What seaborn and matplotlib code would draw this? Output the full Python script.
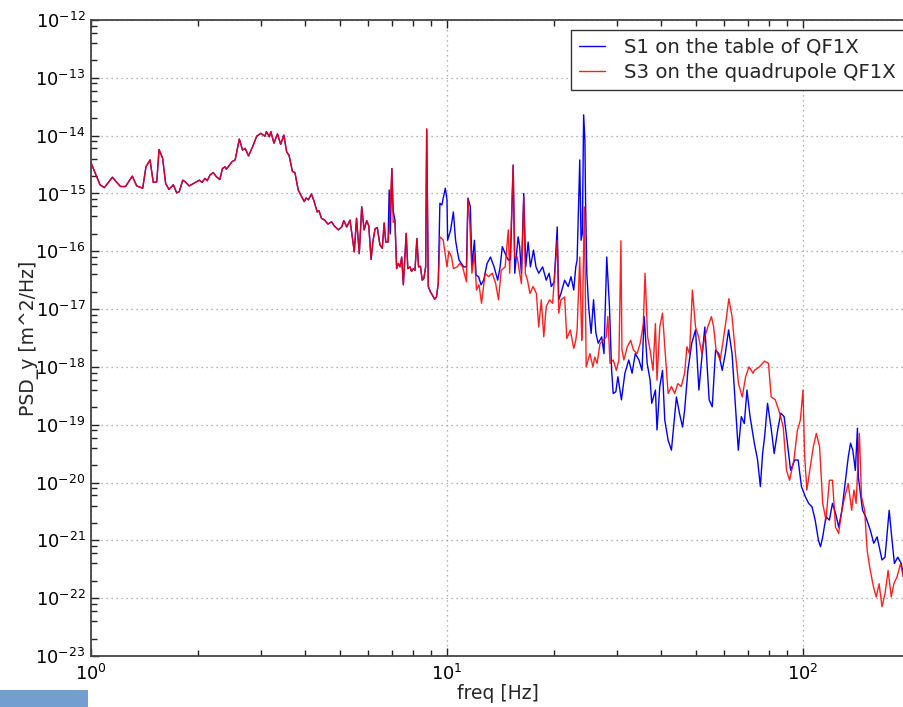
import numpy as np
import pandas as pd
import matplotlib
matplotlib.use("Agg")
import matplotlib.pyplot as plt
import matplotlib.ticker as mticker
from matplotlib.patches import Rectangle
import seaborn as sns

# ---------------- data ----------------
# common part: both sensors identical below ~6.8 Hz
f_common = [1.0, 1.037, 1.06, 1.09, 1.148, 1.21, 1.25, 1.306, 1.344, 1.397,
            1.427, 1.465, 1.496, 1.53, 1.553, 1.589, 1.621, 1.656, 1.703, 1.741,
            1.77, 1.81, 1.84, 1.887, 2.016, 2.05, 2.09, 2.12, 2.16, 2.205,
            2.25, 2.30, 2.34, 2.38, 2.40, 2.45, 2.49, 2.54, 2.61, 2.665,
            2.71, 2.77, 2.845, 2.92, 3.0, 3.08, 3.11, 3.17, 3.2, 3.265,
            3.34, 3.41, 3.48, 3.545, 3.60, 3.68, 3.74, 3.82, 3.91, 3.97,
            4.02, 4.08, 4.16, 4.23, 4.32, 4.37, 4.44, 4.53, 4.63, 4.74,
            4.82, 4.95, 5.06, 5.13, 5.23, 5.34, 5.49, 5.57, 5.67, 5.76,
            5.85, 5.95, 6.03, 6.12, 6.19, 6.28, 6.37, 6.48, 6.58, 6.66,
            6.73, 6.83]
log_psd_common = [-14.47, -14.71, -14.85, -14.90, -14.72, -14.88, -14.88, -14.70, -14.87, -14.91,
                  -14.54, -14.42, -14.81, -14.80, -14.24, -14.39, -14.83, -14.93, -14.85, -14.99,
                  -14.97, -14.77, -14.80, -14.87, -14.77, -14.81, -14.74, -14.78, -14.68, -14.64,
                  -14.71, -14.76, -14.57, -14.54, -14.58, -14.51, -14.45, -14.42, -14.06, -14.25,
                  -14.22, -14.35, -14.19, -14.01, -13.96, -14.01, -13.93, -14.02, -13.93, -14.13,
                  -13.97, -14.15, -13.99, -14.28, -14.34, -14.62, -14.64, -14.94, -15.06, -15.14,
                  -15.08, -15.11, -15.01, -15.13, -15.32, -15.30, -15.43, -15.46, -15.53, -15.49,
                  -15.56, -15.63, -15.58, -15.47, -15.58, -15.46, -16.01, -15.43, -16.04, -15.23,
                  -15.63, -15.47, -15.56, -16.14, -15.84, -15.61, -15.59, -15.89, -15.95, -15.51,
                  -15.84, -15.84]

# S1 on the table of QF1X (above 6.83 Hz)
f_s1 = [6.88, 6.93, 7.0, 7.06, 7.14, 7.22, 7.30, 7.38, 7.46, 7.54,
        7.68, 7.76, 7.87, 7.95, 8.04, 8.13, 8.23, 8.32, 8.42, 8.52,
        8.61, 8.71, 8.77, 8.86, 8.98, 9.10, 9.23, 9.34, 9.45, 9.55,
        9.67, 9.89, 10.0, 10.04, 10.24, 10.42, 10.57, 10.68, 10.81, 10.97,
        11.14, 11.34, 11.45, 11.63, 11.75, 11.94, 12.07, 12.27, 12.46, 12.68,
        12.96, 13.25, 13.56, 13.88, 14.1, 14.3, 14.57, 14.86, 15.08, 15.34,
        15.5, 15.84, 16.0, 16.18, 16.43, 16.64, 16.9, 17.15, 17.5, 17.78,
        18.1, 18.56, 19.0, 19.36, 19.63, 20.0, 20.4, 20.6, 20.9, 21.4,
        21.9, 22.3, 22.7, 23.0, 23.2, 23.6, 23.8, 24.0, 24.2, 24.4,
        24.5, 24.7, 25.0, 25.4, 25.8, 26.2, 26.6, 27.2, 27.6, 28.1,
        28.6, 29.0, 29.3, 29.8, 30.2, 30.9, 31.6, 32.4, 33.1, 33.8,
        34.6, 35.3, 35.8, 36.5, 37.2, 37.6, 38.5, 38.9, 39.6, 40.3,
        40.9, 41.8, 42.7, 43.3, 44.1, 45.0, 45.9, 46.5, 47.5, 48.7,
        49.9, 51.0, 52.0, 53.0, 54.5, 55.6, 56.8, 58.0, 59.3, 60.5,
        61.8, 63.2, 64.6, 65.8, 67.1, 68.4, 69.6, 71.0, 73.0, 74.5,
        75.9, 77.0, 78.0, 79.5, 81.5, 83.0, 84.9, 86.6, 88.5, 90.4,
        92.3, 94.8, 96.9, 99.0, 101.6, 103.7, 106.0, 108.2, 110.5, 112.0,
        113.6, 116.0, 118.6, 121.0, 123.4, 126.0, 128.6, 131.0, 134.0, 136.0,
        138.0, 140.3, 142.2, 143.0, 144.6, 147.0, 150.0, 154.5, 158.0, 161.5,
        166.7, 170.0, 174.6, 177.5, 180.6, 184.6, 188.8, 193.0]
log_psd_s1 = [-14.94, -15.70, -14.57, -15.30, -15.46, -16.30, -16.21, -16.27, -16.10, -16.58,
              -15.69, -16.30, -16.27, -16.35, -16.30, -16.33, -15.78, -16.27, -16.26, -16.50,
              -16.47, -16.27, -13.90, -16.61, -16.70, -16.76, -16.83, -16.79, -16.56, -15.17,
              -15.20, -14.91, -15.11, -15.81, -15.63, -15.32, -15.81, -15.98, -16.15, -16.21,
              -16.27, -16.27, -15.08, -15.23, -16.27, -15.81, -16.41, -16.44, -16.58, -16.50,
              -16.21, -16.10, -16.27, -16.50, -16.27, -15.92, -16.04, -16.15, -16.15, -14.51,
              -16.38, -15.75, -15.92, -16.38, -15.00, -16.27, -15.84, -16.27, -15.98, -16.27,
              -16.38, -16.27, -16.50, -16.38, -16.61, -16.53, -15.58, -16.84, -16.73, -16.50,
              -16.61, -16.44, -16.67, -16.27, -16.15, -14.42, -15.81, -15.69, -13.64, -14.08,
              -15.11, -16.38, -16.96, -17.42, -16.84, -17.42, -17.59, -17.48, -17.77, -16.10,
              -16.96, -18.06, -18.46, -18.43, -18.17, -18.57, -18.11, -17.88, -18.11, -17.77,
              -17.88, -18.06, -17.13, -17.94, -18.23, -18.63, -18.40, -19.09, -18.34, -18.06,
              -18.92, -19.27, -19.44, -19.04, -18.52, -18.81, -19.04, -18.75, -18.06, -17.59,
              -17.36, -18.40, -17.83, -17.31, -18.57, -18.69, -17.71, -17.77, -18.06, -17.77,
              -17.36, -17.77, -18.69, -19.44, -18.86, -18.98, -18.40, -18.86, -19.32, -19.60,
              -20.07, -19.50, -19.21, -18.63, -19.09, -19.50, -19.09, -18.80, -18.86, -19.32,
              -19.79, -19.61, -19.61, -20.07, -20.25, -20.36, -20.42, -20.65, -21.00, -21.11,
              -20.94, -20.59, -20.65, -20.36, -20.53, -20.77, -20.48, -20.07, -19.56, -19.32,
              -19.44, -19.79, -19.06, -19.90, -20.13, -20.48, -20.59, -20.82, -21.05, -20.94,
              -21.34, -21.29, -20.48, -20.94, -21.40, -21.29, -21.40, -21.75]

# S3 on the quadrupole QF1X (above 6.83 Hz)
f_s3 = [6.88, 7.0, 7.06, 7.14, 7.22, 7.30, 7.38, 7.46, 7.54, 7.68,
        7.76, 7.87, 7.95, 8.04, 8.13, 8.23, 8.32, 8.42, 8.52, 8.61,
        8.71, 8.77, 8.86, 8.98, 9.10, 9.23, 9.34, 9.45, 9.55, 9.67,
        9.76, 10.0, 10.12, 10.3, 10.42, 10.68, 10.87, 11.06, 11.34, 11.45,
        11.58, 11.75, 11.94, 12.1, 12.3, 12.5, 12.8, 13.08, 13.4, 13.7,
        13.95, 14.2, 14.57, 14.86, 15.0, 15.34, 15.5, 15.75, 16.0, 16.18,
        16.43, 16.6, 16.83, 17.1, 17.45, 17.83, 18.1, 18.4, 18.7, 19.0,
        19.4, 19.8, 20.4, 20.6, 20.9, 21.4, 21.7, 22.2, 22.7, 23.0,
        23.2, 23.6, 23.9, 24.0, 24.3, 24.45, 24.6, 25.2, 25.7, 26.0,
        26.4, 26.9, 27.5, 28.0, 28.3, 28.7, 29.3, 29.9, 30.4, 30.8,
        31.0, 31.4, 32.1, 32.8, 33.4, 34.2, 34.9, 35.6, 36.0, 36.6,
        37.2, 37.9, 38.5, 38.9, 39.6, 40.3, 40.9, 41.8, 42.7, 43.6,
        44.5, 45.5, 46.5, 47.2, 48.0, 48.9, 49.9, 50.9, 52.0, 53.0,
        54.0, 55.3, 56.1, 57.0, 58.5, 59.7, 61.0, 61.9, 63.2, 64.6,
        65.9, 67.5, 69.0, 70.5, 72.4, 73.0, 75.4, 78.0, 80.0, 81.4,
        83.6, 86.1, 88.0, 89.9, 91.7, 94.3, 96.4, 98.3, 100.0, 101.0,
        102.5, 104.5, 106.9, 109.0, 111.3, 113.6, 116.0, 118.6, 121.0, 123.4,
        125.9, 128.6, 131.0, 134.0, 137.0, 139.0, 141.0, 144.0, 146.0, 149.0,
        151.4, 154.5, 157.7, 160.6, 163.6, 166.7, 170.0, 173.4, 177.0, 180.0,
        183.7, 188.0, 191.4, 193.0]
log_psd_s3 = [-15.60, -14.57, -15.50, -15.46, -16.30, -16.21, -16.27, -16.10, -16.58, -15.69,
              -16.30, -16.27, -16.35, -16.30, -16.33, -15.78, -16.27, -16.26, -16.50, -16.47,
              -16.27, -13.88, -16.61, -16.70, -16.76, -16.83, -16.79, -16.56, -15.75, -15.78,
              -15.81, -16.27, -16.00, -16.10, -16.30, -16.27, -16.21, -16.27, -16.53, -15.10,
              -15.46, -16.38, -16.04, -16.67, -16.58, -16.90, -16.38, -16.44, -16.38, -16.56,
              -16.84, -16.33, -16.27, -15.63, -16.38, -14.51, -16.10, -16.10, -16.38, -16.56,
              -15.06, -16.38, -16.50, -16.73, -16.61, -16.73, -17.31, -16.84, -17.48, -16.96,
              -16.84, -16.90, -15.81, -17.07, -16.84, -16.79, -17.51, -17.36, -17.68, -17.54,
              -17.36, -16.10, -17.54, -17.31, -15.23, -16.50, -18.00, -17.77, -18.00, -17.83,
              -17.94, -17.60, -17.54, -17.48, -17.13, -17.94, -17.88, -18.06, -17.88, -15.82,
              -17.70, -17.88, -17.65, -17.54, -17.71, -17.77, -17.59, -17.25, -16.38, -17.48,
              -17.71, -18.06, -17.25, -18.23, -17.31, -17.07, -17.65, -18.46, -18.34, -18.46,
              -18.29, -18.34, -18.11, -17.65, -17.77, -16.67, -17.31, -17.48, -17.77, -17.48,
              -17.31, -17.13, -17.31, -17.71, -17.88, -17.54, -17.13, -16.82, -17.13, -17.77,
              -18.29, -18.52, -18.17, -18.00, -18.11, -18.06, -18.00, -17.90, -17.94, -18.52,
              -18.57, -18.81, -19.04, -19.79, -19.96, -19.61, -19.10, -18.92, -18.40, -19.50,
              -20.13, -19.79, -19.38, -19.15, -19.38, -20.36, -20.65, -19.96, -19.96, -20.77,
              -20.88, -20.48, -20.25, -20.02, -20.48, -20.13, -20.36, -19.15, -20.25, -20.48,
              -21.17, -21.52, -21.80, -21.98, -21.75, -22.15, -21.92, -21.52, -21.98, -21.75,
              -21.63, -21.40, -21.63, -21.50]

label_s1 = "S1 on the table of QF1X"
label_s3 = "S3 on the quadrupole QF1X"

# ---------------- build tables ----------------
df_s1 = pd.DataFrame({"freq": f_common + f_s1,
                      "psd": 10.0 ** np.array(log_psd_common + log_psd_s1)})
df_s3 = pd.DataFrame({"freq": f_common + f_s3,
                      "psd": 10.0 ** np.array(log_psd_common + log_psd_s3)})

# ---------------- figure ----------------
sns.set_style("white")
plt.rcParams["font.family"] = ["DejaVu Sans"]

W, H = 904, 707
fig = plt.figure(figsize=(W / 100, H / 100), dpi=100)
ax = fig.add_axes([91 / W, 51 / H, 813 / W, 636 / H])

sns.lineplot(data=df_s1, x="freq", y="psd", ax=ax, color="blue", linewidth=1.0,
             estimator=None, sort=False, label=label_s1)
sns.lineplot(data=df_s3, x="freq", y="psd", ax=ax, color="red", linewidth=1.0,
             alpha=0.88, estimator=None, sort=False, label=label_s3)

ax.set_xscale("log")
ax.set_yscale("log")
ax.set_xlim(1, 10 ** (813 / 356))
ax.set_ylim(1e-23, 1e-12)

x_major = [1, 10, 100]
x_minor = [m * d for d in (1, 10, 100) for m in range(2, 10) if m * d <= 190]
y_major = [10.0 ** e for e in range(-23, -11)]
y_minor = [m * 10.0 ** e for e in range(-23, -12) for m in (2, 4, 6, 8)]
ax.xaxis.set_major_locator(mticker.FixedLocator(x_major))
ax.xaxis.set_minor_locator(mticker.FixedLocator(x_minor))
ax.xaxis.set_major_formatter(mticker.LogFormatterSciNotation())
ax.xaxis.set_minor_formatter(mticker.NullFormatter())
ax.yaxis.set_major_locator(mticker.FixedLocator(y_major))
ax.yaxis.set_minor_locator(mticker.FixedLocator(y_minor))
ax.yaxis.set_major_formatter(mticker.LogFormatterSciNotation())
ax.yaxis.set_minor_formatter(mticker.NullFormatter())

ax.tick_params(which="both", direction="in", top=True, right=False,
               bottom=True, left=True, width=1, colors="#222222", labelcolor="black")
ax.tick_params(which="major", length=6, labelsize=12.8)
ax.tick_params(axis="y", which="major", pad=4)
ax.tick_params(axis="x", which="major", pad=6)
ax.tick_params(which="minor", length=4.5)

ax.grid(True, which="major", linestyle=(0, (1, 3)), color="#999999", linewidth=0.9)

for side in ["left", "bottom", "top"]:
    ax.spines[side].set_visible(True)
    ax.spines[side].set_color("#444444")
    ax.spines[side].set_linewidth(1.3)
ax.spines["right"].set_visible(False)

ax.set_xlabel("freq [Hz]", fontsize=13.5, labelpad=0)
ax.set_ylabel("PSD_y [m^2/Hz]", fontsize=13.5, labelpad=-3)

leg = ax.legend(loc="upper right", bbox_to_anchor=(1.0, 1 - 10 / 636), borderaxespad=0,
                fontsize=14.2, frameon=True, fancybox=False, framealpha=1,
                handlelength=1.3, handletextpad=1.0, labelspacing=0.3, borderpad=0.4)
leg.get_frame().set_edgecolor("#333333")
leg.get_frame().set_linewidth(1.0)
for line in leg.get_lines():
    line.set_linewidth(1.0)

fig.add_artist(Rectangle((0, 0), 88 / W, 17 / H, transform=fig.transFigure,
                         facecolor="#729fcf", edgecolor="none"))

fig.savefig("out.png", dpi=100)
